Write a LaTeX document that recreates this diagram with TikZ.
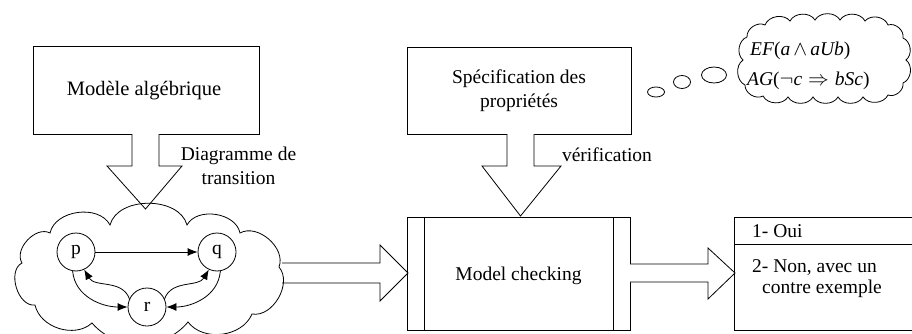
\documentclass[tikz,border=0pt]{standalone}
\usepackage{fontspec}
\setmainfont{Liberation Serif}
\usetikzlibrary{arrows.meta}
\tikzset{
  ln/.style={draw=black, line width=0.8pt},
  txt/.style={font=\fontsize{19.5}{24}\selectfont, inner sep=0pt},
  boxnode/.style={ln, rectangle, inner sep=0pt},
  state/.style={ln, circle, minimum size=38pt, inner sep=0pt, font=\fontsize{19.5}{24}\selectfont},
  blockarrow/.style={ln, fill=white, line join=miter},
  tr/.style={line width=0.8pt, -{Latex[length=10pt,width=8pt]}},
  puff/.style={bend left=#1}
}
\begin{document}
\begin{tikzpicture}[x=1pt,y=-1pt]
\useasboundingbox (0,0) rectangle (912,334);
% boxes
\node[boxnode, minimum width=226pt, minimum height=88pt] (alg) at (146,90) {};
\node[txt, font=\fontsize{20.5}{24}\selectfont] (algt) at (144,91) {Modèle algébrique};
\node[boxnode, minimum width=224pt, minimum height=87pt] (spec) at (519,90.5) {};
\node[txt, align=center] (spect) at (519,91) {Spécification des\\propriétés};
\node[boxnode, minimum width=223pt, minimum height=113pt] (mc) at (518.5,273.5) {};
\draw[ln] (424,217) -- (424,330) (613,217) -- (613,330);
\node[txt] (mct) at (518.5,276) {Model checking};
% result box
\draw[ln] (914,217) -- (734,217) -- (734,330) -- (914,330);
\draw[ln] (734,244) -- (914,244);
\node[txt, anchor=west] (oui) at (752,231) {1- Oui};
\node[txt, anchor=north west, align=left, font=\fontsize{19.5}{21.5}\selectfont] (non) at (752,259) {2- Non, avec un\\\hspace*{10pt}contre exemple};
% block arrows
\draw[blockarrow] (132,134) -- (132,166) -- (107,166) -- (145.5,209) -- (182,166) -- (159,166) -- (159,134);
\draw[blockarrow] (507,134) -- (507,166) -- (482,166) -- (520.5,216) -- (561,166) -- (534,166) -- (534,134);
\draw[blockarrow] (282,263) -- (380,263) -- (380,245) -- (408,273) -- (380,301) -- (380,283) -- (282,283);
\draw[blockarrow] (630,264) -- (708,264) -- (708,248) -- (735,273) -- (708,299) -- (708,282) -- (630,282);
\node[txt, align=center] (dt) at (238.5,166) {Diagramme de\\transition};
\node[txt] (ver) at (607,155) {vérification};
% left cloud
\draw[ln] (35,305) to[puff=80] (22,263) to[puff=75] (50,233) to[puff=70] (110,225)
  to[puff=75] (187,225) to[puff=70] (240,233) to[puff=70] (279,267)
  to[puff=70] (252,314) to[puff=60] (188,322) to[puff=50] (92,323) to[puff=60] (35,305) -- cycle;
% graph
\node[state] (p) at (76,252) {p};
\node[state] (q) at (217,252) {q};
\node[state] (r) at (147,307) {r};
\draw[tr] (p) -- (q);
\draw[tr] (p.-100) to[out=-85,in=180] (r.west);
\draw[tr] (r.155) to[out=110,in=-60] (p.-65);
\draw[tr] (q.-80) to[out=-95,in=0] (r.east);
\draw[tr] (r.25) to[out=70,in=-120] (q.-115);
% thought bubble
\draw[ln] (656,92) ellipse [x radius=8.5pt, y radius=5pt];
\draw[ln] (682,82) ellipse [x radius=8.5pt, y radius=6.5pt];
\draw[ln] (714,75) ellipse [x radius=12.5pt, y radius=8pt];
\draw[ln] (745,85) to[puff=60] (743,60) to[puff=60] (747,37) to[puff=60] (765,25)
  to[puff=60] (790,21) to[puff=60] (815,20) to[puff=60] (840,20) to[puff=60] (865,21)
  to[puff=60] (888,25) to[puff=60] (903,38) to[puff=60] (906,60) to[puff=60] (903,83)
  to[puff=60] (888,95) to[puff=60] (863,97) to[puff=60] (838,97) to[puff=60] (813,97)
  to[puff=60] (788,97) to[puff=60] (763,96) to[puff=60] (745,85) -- cycle;
\node[txt, anchor=west] (f1) at (750,51) {\textit{EF}(\textit{a}\hspace{3pt}$\wedge$\hspace{3pt}\textit{aUb})};
\node[txt, anchor=west] (f2) at (747,81) {\textit{AG}($\neg$\textit{c}\hspace{6pt}$\Rightarrow$\hspace{6pt}\textit{bSc})};
\end{tikzpicture}
\end{document}
